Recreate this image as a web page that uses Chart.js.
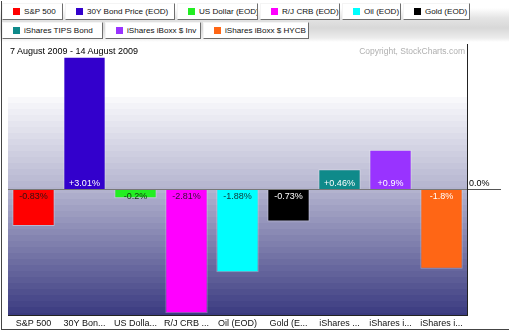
<!DOCTYPE html>
<html><head><meta charset="utf-8">
<script src="https://cdn.jsdelivr.net/npm/chart.js@4"></script>
<style>
html,body{margin:0;padding:0;background:#fff;}
#wrap{position:relative;width:510px;height:332px;overflow:hidden;font-family:"Liberation Sans",Arial,sans-serif;}
#hdr{position:absolute;left:0;top:0;width:509px;height:42px;background:linear-gradient(#fff 0px,#fff 8px,#e4e4e4 18px,#d8d8d8 28px,#ececec 38px,#fff 42px);}
.row{position:absolute;left:2px;display:flex;width:506px;}
.btn{box-sizing:border-box;flex:none;height:17px;background:#fff;border:1px solid;border-color:#f4f4f4 #6e6e6e #6e6e6e #f4f4f4;margin-right:2px;font-size:8.1px;padding:0 0 0 10px;white-space:nowrap;display:flex;align-items:center;color:#111;overflow:hidden;}
.sw{width:7px;height:7px;margin-right:4px;flex:none;}
canvas{position:absolute;left:0;top:0;}
#frame{position:absolute;left:1px;top:1px;width:507px;height:328px;border-left:1px solid #444;border-bottom:1px solid #444;pointer-events:none;}
.txt{position:absolute;font-size:9px;white-space:nowrap;}
</style></head>
<body>
<div id="wrap">
  <div id="hdr"></div>
  <div class="row" id="row1" style="top:3px"></div>
  <div class="row" id="row2" style="top:22px"></div>
  <canvas id="c" width="510" height="332"></canvas>
  <div class="txt" style="left:10px;top:46px;color:#000;">7 August 2009 - 14 August 2009</div>
  <div class="txt" style="right:45px;top:46px;color:#b0b0b0;font-size:8.5px;">Copyright, StockCharts.com</div>
  <div id="frame"></div>
</div>
<script>
const categories = ["S&P 500","30Y Bond Price (EOD)","US Dollar (EOD)","R/J CRB (EOD)","Oil (EOD)","Gold (EOD)","iShares TIPS Bond","iShares iBoxx $ Inv","iShares iBoxx $ HYCB"];
const tickLabels = ["S&P 500","30Y Bon...","US Dolla...","R/J CRB ...","Oil (EOD)","Gold (E...","iShares ...","iShares i...","iShares i..."];
const changes = [-0.83, 3.01, -0.2, -2.81, -1.88, -0.73, 0.46, 0.9, -1.8];
const barColors = ["#ff0000","#3300cc","#22ee22","#ff00ff","#00ffff","#000000","#0f8a8a","#9933ff","#ff6615"];
const labelColors = ["#331111","#ffffff","#113311","#331133","#113333","#ffffff","#ffffff","#ffffff","#ffffff"];
const legendRows = [[0,1,2,3,4,5],[6,7,8]];
const legendWidths = [61,110,81,80,59,67,101,96,106];

// legend buttons (HTML)
legendRows.forEach((row,ri)=>{
  const el = document.getElementById(ri===0?'row1':'row2');
  row.forEach(i=>{
    const b=document.createElement('div');b.className='btn';b.style.width=legendWidths[i]+'px';
    const s=document.createElement('span');s.className='sw';s.style.background=barColors[i];
    b.appendChild(s);b.appendChild(document.createTextNode(categories[i]));el.appendChild(b);
  });
});

const FONT = "'Liberation Sans', Arial, sans-serif";

const bgPlugin = {
  id:'bg',
  beforeDraw(chart){
    const {ctx, chartArea:a} = chart;
    ctx.save();
    ctx.fillStyle='#fff';ctx.fillRect(a.left,a.top,a.right-a.left,a.bottom-a.top);
    const gTop = 97, band = 6;
    const stops = [[0,[250,250,252]],[0.43,[178,178,206]],[1,[58,58,128]]];
    function col(t){
      for(let k=0;k<stops.length-1;k++){
        const [t0,c0]=stops[k],[t1,c1]=stops[k+1];
        if(t<=t1){const f=(t-t0)/(t1-t0);return c0.map((v,j)=>Math.round(v+(c1[j]-v)*f));}
      }
      return stops[stops.length-1][1];
    }
    for(let y=gTop;y<a.bottom;y+=band){
      const t=(y+band/2-gTop)/(a.bottom-gTop);
      const c=col(Math.min(1,t));
      ctx.fillStyle=`rgb(${c[0]},${c[1]},${c[2]})`;
      ctx.fillRect(a.left,y,a.right-a.left,Math.min(band,a.bottom-y));
    }
    ctx.restore();
  }
};

const labelPlugin = {
  id:'barLabels',
  afterDatasetsDraw(chart){
    const ctx=chart.ctx;const meta=chart.getDatasetMeta(0);
    ctx.save();ctx.font="9px "+FONT;ctx.textAlign='center';ctx.textBaseline='middle';
    meta.data.forEach((bar,i)=>{
      const v=changes[i];const txt=(v>0?'+':'')+v+'%';
      const y = v>=0 ? bar.base-5 : bar.base+7;
      ctx.fillStyle=labelColors[i];ctx.fillText(txt,bar.x,y);
    });
    ctx.restore();
  }
};

new Chart(document.getElementById('c'),{
  type:'bar',
  data:{labels:tickLabels,datasets:[{data:changes,backgroundColor:barColors,borderColor:'rgba(255,255,255,0.35)',borderWidth:1,barPercentage:0.83,categoryPercentage:1}]},
  options:{
    responsive:false,animation:false,
    layout:{padding:{left:8,top:44,right:0,bottom:2}},
    plugins:{legend:{display:false},tooltip:{enabled:false}},
    scales:{
      x:{grid:{display:false,drawTicks:false},border:{color:'#222',width:1},
         ticks:{color:'#111',font:{family:FONT,size:9},padding:3,autoSkip:false,maxRotation:0,minRotation:0},
         afterFit(s){s.height=15;}},
      y:{position:'right',min:-2.85,max:3.3,
         afterBuildTicks(s){s.ticks=[{value:0}];},
         grid:{color:'#777',tickLength:34,tickColor:'#555'},
         border:{color:'#222',width:1},
         ticks:{callback:v=>v.toFixed(1)+'%',padding:-32,labelOffset:-6,color:'#000',font:{family:FONT,size:9}},
         afterFit(s){s.width=43;}}
    }
  },
  plugins:[bgPlugin,labelPlugin]
});
</script>
</body></html>
